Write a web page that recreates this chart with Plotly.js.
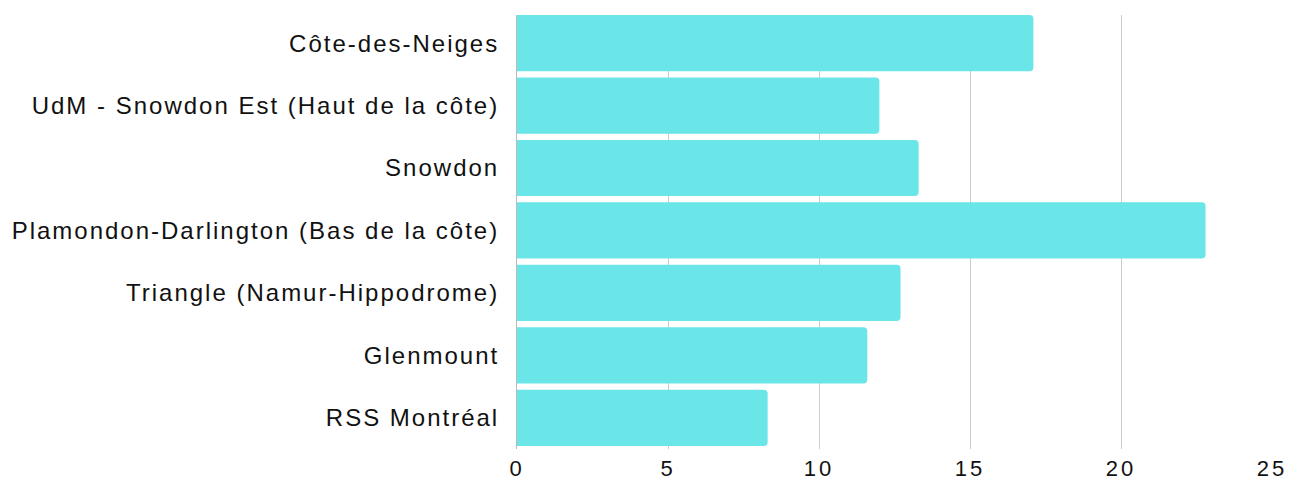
<!DOCTYPE html>
<html>
<head>
<meta charset="utf-8">
<script src="https://cdn.plot.ly/plotly-3.0.1.min.js"></script>
<style>
html,body{margin:0;padding:0;background:#fff;}
#chart{width:1293px;height:482px;}
#chart .ytick text{letter-spacing:2px !important;}
#chart .xtick text{letter-spacing:3px !important;}
</style>
</head>
<body>
<div id="chart"></div>
<script>
const categories = [
  "Côte-des-Neiges",
  "UdM - Snowdon Est (Haut de la côte)",
  "Snowdon",
  "Plamondon-Darlington (Bas de la côte)",
  "Triangle (Namur-Hippodrome)",
  "Glenmount",
  "RSS Montréal"
];
const values = [17.1, 12.0, 13.3, 22.8, 12.7, 11.6, 8.3];
const xTicks = [0, 5, 10, 15, 20, 25];

const trace = {
  type: 'bar',
  orientation: 'h',
  y: categories,
  x: values,
  marker: {color: '#6ae5e8', cornerradius: 4},
  hoverinfo: 'x+y'
};

const layout = {
  width: 1293,
  height: 482,
  margin: {l: 517, r: 21, t: 15, b: 33},
  paper_bgcolor: '#ffffff',
  plot_bgcolor: '#ffffff',
  font: {family: '"Liberation Sans", Arial, sans-serif', size: 24, color: '#111111'},
  bargap: 0.1,
  showlegend: false,
  xaxis: {
    range: [0, 25],
    tickvals: xTicks,
    ticktext: xTicks.map(String),
    showgrid: true,
    gridcolor: '#cccccc',
    gridwidth: 1,
    zeroline: false,
    showline: false,
    ticks: '',
    ticklabelstandoff: 4,
    tickfont: {size: 22, color: '#111111'}
  },
  yaxis: {
    type: 'category',
    range: [6.5, -0.45],
    autorange: false,
    showgrid: false,
    zeroline: false,
    showline: true,
    linecolor: '#bbbbbb',
    linewidth: 1,
    layer: 'below traces',
    ticks: '',
    ticklabelstandoff: 12,
    tickfont: {size: 24, color: '#111111'}
  }
};

Plotly.newPlot('chart', [trace], layout, {displayModeBar: false, staticPlot: true});
</script>
</body>
</html>
